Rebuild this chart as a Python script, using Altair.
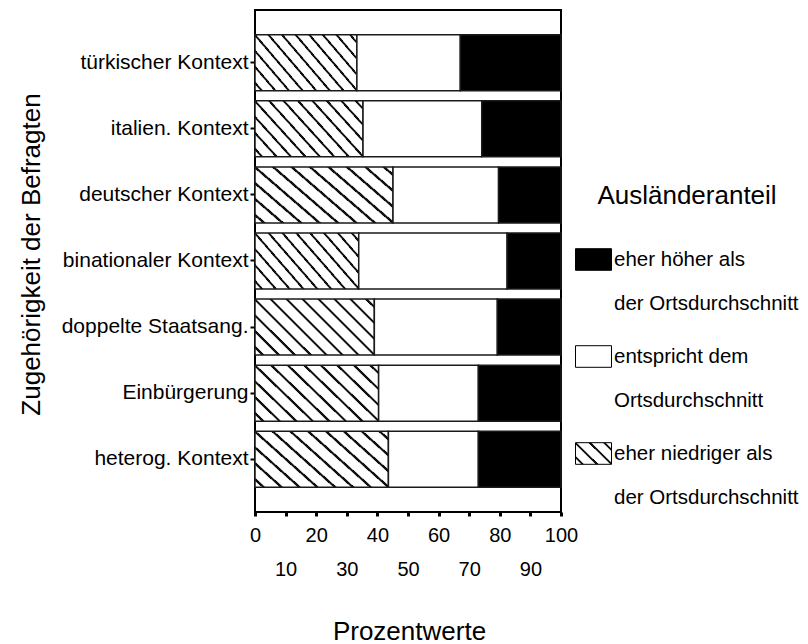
import altair as alt
import pandas as pd

# ---- data (top to bottom) ----
categories = ["türkischer Kontext", "italien. Kontext", "deutscher Kontext",
              "binationaler Kontext", "doppelte Staatsang.", "Einbürgerung",
              "heterog. Kontext"]
niedrig = [33.3, 35.3, 45.1, 33.9, 39.0, 40.4, 43.6]   # eher niedriger als der Ortsdurchschnitt
mittel  = [33.8, 38.8, 34.5, 48.5, 40.2, 32.6, 29.4]   # entspricht dem Ortsdurchschnitt
hoch    = [32.9, 25.9, 20.4, 17.6, 20.8, 27.0, 27.0]   # eher höher als der Ortsdurchschnitt

legend_keys = ["hoch", "mittel", "niedrig"]
legend_lines = {
    "hoch": ["eher höher als", "der Ortsdurchschnitt"],
    "mittel": ["entspricht dem", "Ortsdurchschnitt"],
    "niedrig": ["eher niedriger als", "der Ortsdurchschnitt"],
}
stack_order = {"niedrig": 0, "mittel": 1, "hoch": 2}
x_ticks = [0, 10, 20, 30, 40, 50, 60, 70, 80, 90, 100]

rows = []
for i, c in enumerate(categories):
    for key, vals in (("niedrig", niedrig), ("mittel", mittel), ("hoch", hoch)):
        rows.append({"Kontext": c, "Anteil": key, "Wert": vals[i], "ord": stack_order[key]})
df = pd.DataFrame(rows)

FONT = "Liberation Sans"


def hatch(n, x2, y2):
    pts = [(0.0, "#ffffff")]
    h = 0.08 / n
    e = 0.07 / n
    for k in range(n):
        c = (k + 0.5) / n
        pts += [(c - h - e, "#ffffff"), (c - h, "#888888"), (c - h, "#111111"),
                (c + h, "#111111"), (c + h, "#888888"), (c + h + e, "#ffffff")]
    pts.append((1.0, "#ffffff"))
    stops = ",".join("{offset:%.4f,color:'%s'}" % (o, col) for o, col in pts)
    return "{gradient:'linear',x1:0,y1:1,x2:%.3f,y2:%.3f,stops:[%s]}" % (x2, y2, stops)


bar_hatch = hatch(11, 1.204, 0.434)
leg_hatch = hatch(4, 1.173, 0.284)

lab_expr = " : ".join(
    "datum.label == '%s' ? ['%s', '%s']" % (k, v[0], v[1]) for k, v in legend_lines.items()
) + " : datum.label"

bars = alt.Chart(df).mark_bar(stroke="#1a1a1a", strokeWidth=1.5).encode(
    y=alt.Y("Kontext:N", sort=categories,
            scale=alt.Scale(paddingInner=0.153, paddingOuter=0.374),
            axis=alt.Axis(title="Zugehörigkeit der Befragten", titleFont=FONT,
                          titleFontSize=26, titleFontWeight="normal", titleColor="black",
                          titleX=-224, titleY=244, titleBaseline="middle", titleAngle=-90,
                          labelFont=FONT, labelFontSize=21, labelColor="black",
                          labelPadding=2, labelLimit=400, tickColor="black",
                          tickSize=5, tickWidth=2, domain=False)),
    x=alt.X("Wert:Q", stack="zero",
            scale=alt.Scale(domain=[0, 100], nice=False),
            axis=alt.Axis(title="Prozentwerte", values=x_ticks, grid=False,
                          titleFont=FONT, titleFontSize=26, titleFontWeight="normal",
                          titleColor="black", titleX=154, titleY=119, titleBaseline="middle",
                          labelFont=FONT, labelFontSize=20, labelColor="black",
                          labelExpr="datum.value % 20 == 0 ? datum.label : ['', datum.label]",
                          labelLineHeight=34, labelBaseline="top", labelPadding=9,
                          labelFlush=False, labelOverlap=False,
                          tickColor="black", tickSize=4, tickWidth=3, domain=False)),
    fill=alt.Fill("Anteil:N",
                  scale=alt.Scale(domain=legend_keys,
                                  range=["black", "white", alt.ExprRef(expr=bar_hatch)]),
                  legend=None),
    order=alt.Order("ord:Q"),
)

leg = alt.Chart(df).transform_filter("false").mark_bar().encode(
    fill=alt.Fill("Anteil:N",
                  scale=alt.Scale(domain=legend_keys,
                                  range=["black", "white", alt.ExprRef(expr=leg_hatch)]),
                  legend=alt.Legend(orient="none", legendX=320, legendY=173,
                                    title="Ausländeranteil", titleFont=FONT,
                                    titleFontSize=26, titleFontWeight="normal",
                                    titleColor="black", titleAnchor="middle",
                                    titlePadding=32,
                                    labelFont=FONT, labelFontSize=20.5, labelColor="black",
                                    labelBaseline="middle",
                                    labelExpr=lab_expr, labelLimit=400, labelOffset=2,
                                    symbolType="M-1,-0.6H1V0.6H-1Z",
                                    symbolSize=1296, symbolStrokeColor="black",
                                    symbolStrokeWidth=1, symbolOpacity=1,
                                    rowPadding=24, padding=0)),
)

chart = alt.layer(bars, leg).resolve_scale(fill="independent").properties(
    width=306, height=502,
    autosize=alt.AutoSizeParams(type="none"),
    padding={"left": 247, "top": 2, "right": 239, "bottom": 134},
    background="white",
).configure(
    style={"guide-label": {"lineHeight": 44}}
).configure_view(stroke="black", strokeWidth=2)

chart.save("out.html", embed_options={"renderer": "svg", "actions": False})
